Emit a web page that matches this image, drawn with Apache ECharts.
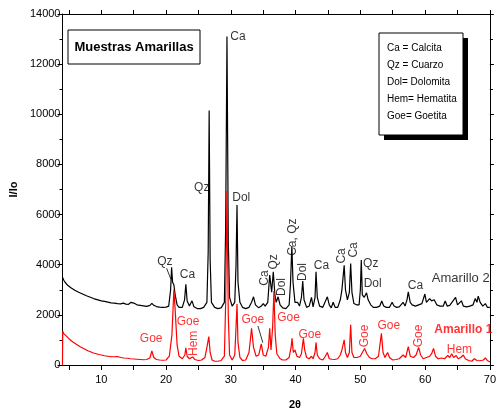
<!DOCTYPE html>
<html><head><meta charset="utf-8">
<script src="https://cdn.jsdelivr.net/npm/echarts@6/dist/echarts.min.js"></script>
<style>html,body{margin:0;padding:0;background:#fff}#c{width:499px;height:414px}</style>
</head><body><div id="c"></div>
<script>
// Amarillo 2 (black, upper trace): [2theta, I/Io]
const amarillo2 = [
[4.0,3500],[4.2,3380],[4.4,3300],[4.6,3250],[4.8,3180],[5.0,3150],[5.3,3080],[5.6,3030],[5.9,2980],[6.2,2950],
[6.5,2900],[6.8,2860],[7.1,2830],[7.4,2790],[7.7,2760],[8.0,2720],[8.4,2690],[8.8,2650],[9.2,2620],[9.6,2590],
[10.0,2560],[10.5,2540],[11.0,2510],[11.5,2480],[12.0,2470],[12.5,2450],[13.0,2440],[13.4,2470],[13.8,2430],[14.2,2420],
[14.6,2500],[15.0,2470],[15.5,2400],[16.0,2380],[16.5,2360],[17.0,2340],[17.5,2380],[17.8,2460],[18.1,2380],[18.5,2330],
[19.0,2310],[19.5,2300],[20.0,2310],[20.4,2350],[20.7,3000],[20.85,3900],[21.0,3300],[21.2,3200],[21.4,2800],[21.7,2400],
[22.0,2300],[22.5,2300],[22.85,2600],[23.05,3220],[23.25,2550],[23.6,2350],[24.0,2560],[24.3,2320],[24.8,2250],[25.3,2250],
[25.8,2300],[26.3,2500],[26.5,4500],[26.65,10150],[26.8,4200],[27.0,2500],[27.5,2300],[28.0,2250],[28.5,2280],[29.0,2500],
[29.2,5500],[29.4,13100],[29.6,5000],[29.8,2700],[30.2,2350],[30.6,2500],[30.8,4000],[30.95,6380],[31.1,3300],[31.4,2500],
[31.8,2300],[32.3,2250],[32.8,2300],[33.2,2500],[33.5,2720],[33.8,2400],[34.3,2280],[34.7,2350],[35.0,2450],[35.3,2350],
[35.7,2500],[36.0,3590],[36.3,2900],[36.55,3720],[36.8,2800],[37.0,2500],[37.3,2720],[37.6,2400],[38.0,2280],[38.5,2250],
[39.0,2400],[39.2,3200],[39.42,4750],[39.6,3300],[39.9,2500],[40.3,2500],[40.6,2350],[40.9,2700],[41.1,3350],[41.3,2600],
[41.7,2300],[42.1,2350],[42.45,2700],[42.7,2320],[43.0,2700],[43.15,3720],[43.35,2700],[43.7,2350],[44.2,2300],[44.7,2600],
[44.9,2720],[45.2,2400],[45.5,2280],[45.8,2500],[46.1,2300],[46.5,2300],[46.9,2600],[47.15,3000],[47.5,3975],[47.7,3000],
[48.0,2600],[48.3,2900],[48.5,4050],[48.7,2900],[49.0,2450],[49.4,2400],[49.8,2400],[50.0,3000],[50.14,4190],[50.3,2800],
[50.6,2700],[50.95,2880],[51.2,2600],[51.6,2400],[52.0,2300],[52.5,2300],[53.0,2350],[53.3,2550],[53.6,2350],[54.0,2300],
[54.5,2300],[54.9,2500],[55.2,2350],[55.6,2300],[56.0,2320],[56.6,2500],[56.9,2350],[57.2,2600],[57.4,2920],[57.7,2500],
[58.0,2400],[58.5,2350],[59.0,2400],[59.5,2450],[59.96,2830],[60.2,2500],[60.7,2650],[61.0,2560],[61.4,2600],[61.8,2400],
[62.3,2350],[62.8,2350],[63.1,2550],[63.4,2350],[63.8,2380],[64.1,2450],[64.7,2700],[65.0,2400],[65.6,2560],[65.9,2350],
[66.4,2320],[66.9,2350],[67.4,2400],[67.75,2650],[68.0,2500],[68.2,2750],[68.5,2500],[68.9,2350],[69.3,2450],[69.6,2300],
[70.0,2300]
];
// Amarillo 1 (red, lower trace)
const amarillo1 = [
[4.0,0],[4.03,1350],[4.2,1250],[4.4,1200],[4.6,1150],[4.8,1080],[5.0,1050],[5.3,980],[5.6,920],[5.9,880],
[6.2,820],[6.5,760],[6.8,720],[7.1,680],[7.4,640],[7.7,600],[8.0,560],[8.4,520],[8.8,480],[9.2,450],
[9.6,420],[10.0,400],[10.5,370],[11.0,350],[11.5,330],[12.0,330],[12.5,340],[13.0,300],[13.5,280],[14.0,270],
[14.5,250],[15.0,240],[15.5,230],[16.0,220],[16.5,210],[17.0,220],[17.5,280],[17.8,560],[18.1,300],[18.5,220],
[19.0,200],[19.5,190],[20.0,200],[20.5,350],[20.9,1200],[21.2,3000],[21.4,2200],[21.7,800],[22.0,350],[22.5,250],
[22.9,400],[23.05,680],[23.25,350],[23.6,250],[24.1,320],[24.4,220],[25.0,180],[25.5,200],[26.0,300],[26.3,700],
[26.6,1130],[26.8,500],[27.1,200],[27.5,150],[28.0,150],[28.5,180],[29.0,350],[29.2,2500],[29.4,6950],[29.6,2000],
[29.8,400],[30.2,200],[30.6,400],[30.8,1500],[30.95,2430],[31.1,900],[31.4,300],[31.8,180],[32.3,200],[32.8,500],
[33.2,1460],[33.5,700],[33.9,350],[34.3,400],[34.7,840],[35.0,400],[35.4,350],[35.8,700],[36.0,1460],[36.2,600],
[36.45,1500],[36.65,2950],[36.85,1200],[37.1,450],[37.3,400],[37.6,250],[38.0,200],[38.5,200],[39.0,300],[39.3,700],
[39.45,1060],[39.65,500],[39.9,600],[40.2,350],[40.6,300],[40.9,450],[41.2,1060],[41.4,600],[41.7,300],[42.1,250],
[42.45,350],[42.7,250],[43.0,500],[43.15,900],[43.35,400],[43.7,250],[44.2,200],[44.6,350],[44.9,500],[45.2,250],
[45.6,230],[46.0,220],[46.5,250],[46.9,400],[47.15,600],[47.5,1000],[47.7,500],[48.0,300],[48.3,500],[48.5,1600],
[48.7,500],[49.0,300],[49.5,300],[50.0,350],[50.3,500],[50.65,660],[51.0,450],[51.4,300],[51.8,250],[52.3,250],
[52.8,350],[53.25,1260],[53.5,500],[53.8,300],[54.2,500],[54.5,300],[55.0,200],[55.5,220],[56.0,250],[56.6,400],
[57.0,300],[57.4,730],[57.7,350],[58.2,300],[58.6,400],[59.0,700],[59.3,400],[59.7,250],[60.2,300],[60.7,350],
[61.0,450],[61.3,660],[61.6,350],[62.0,250],[62.5,280],[63.0,250],[63.5,380],[63.8,300],[64.1,450],[64.4,300],
[64.8,380],[65.1,250],[65.5,300],[65.9,400],[66.2,250],[66.7,180],[67.2,150],[67.6,250],[68.0,180],[68.5,170],
[69.0,200],[69.3,280],[69.6,180],[70.0,120]
];
// Peak annotations: [2theta, I/Io, text, rotation]
const blackLabels = [
[31.1,13080,'Ca',0],[25.5,7060,'Qz',0],[31.6,6660,'Dol',0],[19.8,4110,'Qz',0],[23.3,3590,'Ca',0],
[35.2,3470,'Ca',90],[36.6,4110,'Qz',90],[37.9,3110,'Dol',90],[39.5,5100,'Ca, Qz',90],[41.1,3710,'Dol',90],
[44.0,3950,'Ca',0],[47.1,4350,'Ca',90],[48.9,4590,'Ca',90],[51.6,4030,'Qz',0],[51.9,3230,'Dol',0],[58.5,3150,'Ca',0]
];
const redLabels = [
[17.7,1065,'Goe',0],[23.4,1730,'Goe',0],[24.2,865,'Hem',90],[33.4,1795,'Goe',0],[38.9,1900,'Goe',0],
[42.2,1225,'Goe',0],[50.7,1160,'Goe',90],[54.4,1555,'Goe',0],[59.0,1160,'Goe',90],[65.3,600,'Hem',0]
];
const seriesNames = [[65.5,3470,'Amarillo 2'],[65.9,1400,'Amarillo 1']];
const blackLeader = [[20.08,3860],[20.74,3420]];
const redLeader = [[34.18,1555],[34.94,890]];
const xTicks = [5,10,15,20,25,30,35,40,45,50,55,60,65,70];
const xTickLabels = [10,20,30,40,50,60,70];
const yTicks = [0,2000,4000,6000,8000,10000,12000,14000];
const legendLines = ['Ca = Calcita','Qz = Cuarzo','Dol= Dolomita','Hem= Hematita','Goe= Goetita'];

const FONT = '"Liberation Sans", Arial, sans-serif';
const chart = echarts.init(document.getElementById('c'), null, {renderer:'canvas'});

function labelSeries(arr, color, size, bold) {
  return {
    type:'scatter', symbolSize:0, silent:true, z:5,
    data: arr.map(a => ({value:[a[0],a[1]], label:{show:true, position:'inside', formatter:a[2], rotate:a[3]||0,
      color:color, fontSize:size, fontFamily:FONT, fontWeight: bold ? 'bold' : 'normal'}}))
  };
}

const axisCommon = {
  axisLine:{show:true, onZero:false, lineStyle:{color:'#000', width:1}},
  splitLine:{show:false}
};

chart.setOption({
  animation:false,
  grid:{left:60, right:5, top:14, bottom:49, containLabel:false},
  xAxis:[
    Object.assign({type:'value', min:4, max:70, position:'bottom',
      axisTick:{show:true, inside:false, length:5, customValues:xTicks, lineStyle:{color:'#000'}},
      axisLabel:{color:'#000', fontSize:11, fontFamily:FONT, margin:9, customValues:xTickLabels,
        formatter:v => String(v)}}, axisCommon),
    Object.assign({type:'value', min:4, max:70, position:'top',
      axisTick:{show:true, inside:false, length:4, customValues:xTicks, lineStyle:{color:'#000'}},
      axisLabel:{show:false}}, axisCommon)
  ],
  yAxis:[
    Object.assign({type:'value', min:yTicks[0], max:yTicks[yTicks.length-1], interval:2000, position:'left',
      axisTick:{show:true, inside:false, length:5, lineStyle:{color:'#000'}},
      minorTick:{show:true, splitNumber:2, length:3, lineStyle:{color:'#000'}},
      axisLabel:{color:'#000', fontSize:11, fontFamily:FONT, margin:2, formatter:v => String(v)},
      name:'I/Io', nameLocation:'middle', nameRotate:90, nameGap:42,
      nameTextStyle:{color:'#000', fontSize:11, fontWeight:'bold', fontFamily:FONT}}, axisCommon),
    Object.assign({type:'value', min:0, max:14000, interval:2000, position:'right',
      axisTick:{show:true, inside:false, length:4, lineStyle:{color:'#000'}},
      minorTick:{show:true, splitNumber:2, length:3, lineStyle:{color:'#000'}},
      axisLabel:{show:false}}, axisCommon)
  ],
  series:[
    {type:'line', name:'Amarillo 2', data:amarillo2, showSymbol:false, symbol:'none',
      lineStyle:{color:'#000', width:1.2}, z:2},
    {type:'line', name:'Amarillo 1', data:amarillo1, showSymbol:false, symbol:'none',
      lineStyle:{color:'#ff0000', width:1.2}, z:3},
    {type:'line', data:blackLeader, symbol:'none', lineStyle:{color:'#000', width:0.8}, silent:true, z:4},
    {type:'line', data:redLeader, symbol:'none', lineStyle:{color:'#000', width:0.8}, silent:true, z:4},
    labelSeries(blackLabels, '#000', 12, false),
    labelSeries(redLabels, '#ff0000', 12, false),
    labelSeries([seriesNames[0]], '#000', 13, false),
    labelSeries([seriesNames[1]], '#ff0000', 12, true)
  ],
  graphic:[
    {type:'rect', shape:{x:68, y:30, width:132, height:34}, style:{fill:'#fff', stroke:'#000', lineWidth:1}, z:10},
    {type:'text', x:134, y:47, style:{text:'Muestras Amarillas', fill:'#000', font:'bold 13px '+FONT, textAlign:'center', textVerticalAlign:'middle'}, z:11},
    {type:'rect', shape:{x:384, y:38, width:84, height:102}, style:{fill:'#000'}, z:10},
    {type:'rect', shape:{x:379, y:33, width:84, height:102}, style:{fill:'#fff', stroke:'#000', lineWidth:1}, z:11},
    ...legendLines.map((t,i) => ({type:'text', x:387, y:48 + i*17, style:{text:t, fill:'#000', font:'10px '+FONT, textVerticalAlign:'middle'}, z:12})),
    {type:'text', x:295, y:405, style:{text:'2θ', fill:'#000', font:'bold 11px '+FONT, textAlign:'center', textVerticalAlign:'middle'}, z:12}
  ]
});
</script></body></html>
